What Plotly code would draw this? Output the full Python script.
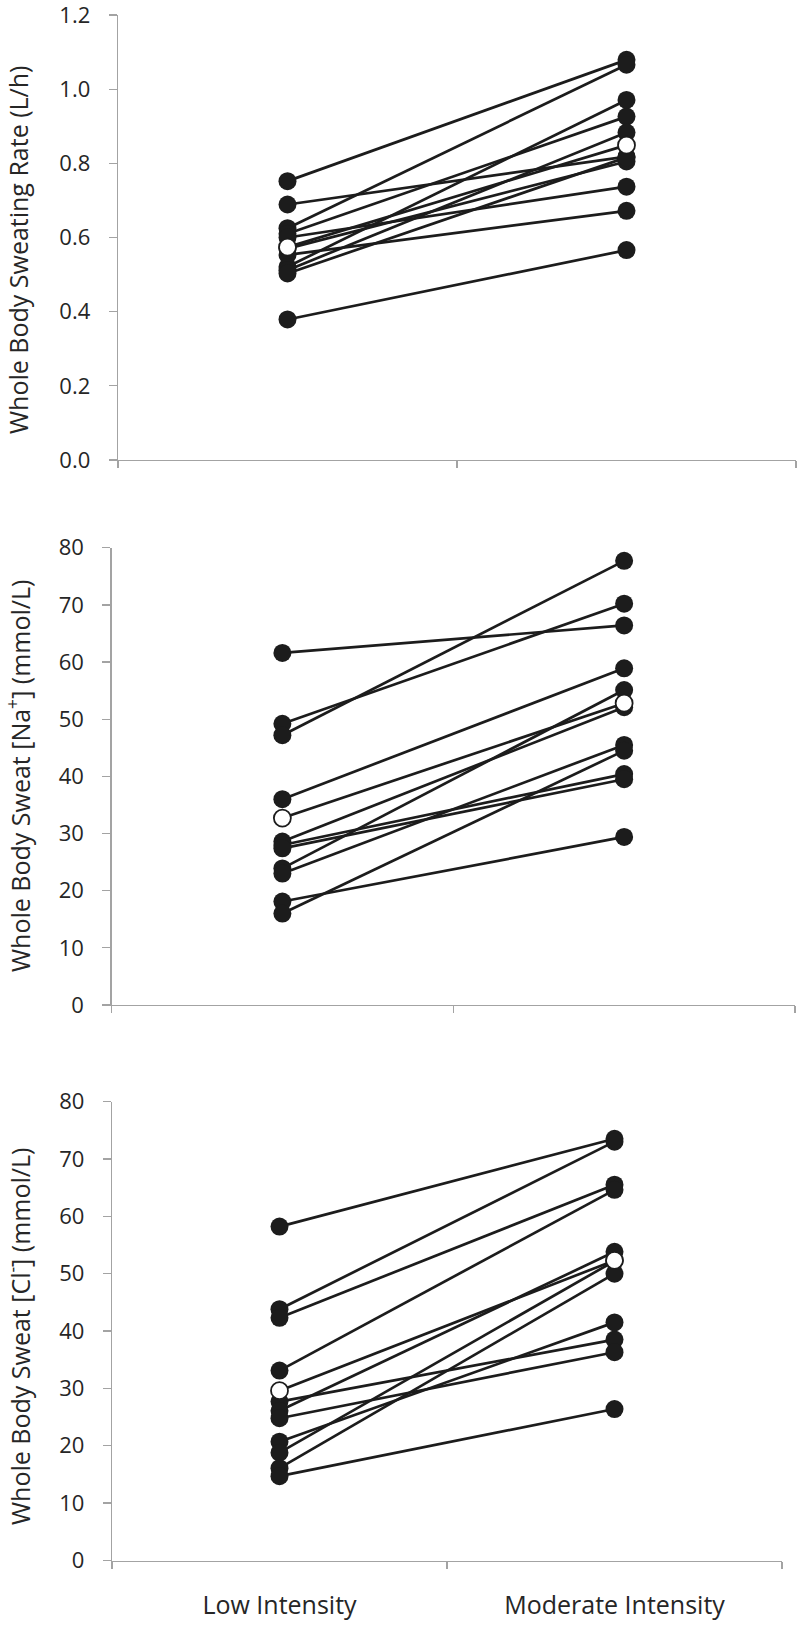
import plotly.graph_objects as go

categories = ["Low Intensity", "Moderate Intensity"]

# Panel 1: whole body sweating rate (L/h)
rate_low = [0.752, 0.689, 0.625, 0.610, 0.600, 0.570, 0.553, 0.521, 0.512, 0.503, 0.379]
rate_mod = [1.079, 0.818, 1.066, 0.926, 0.737, 0.805, 0.672, 0.971, 0.883, 0.816, 0.566]
rate_mean = [0.574, 0.849]

# Panel 2: whole body sweat [Na+] (mmol/L)
na_low = [61.6, 49.2, 47.2, 36.0, 28.6, 28.0, 27.4, 23.9, 23.0, 18.1, 16.0]
na_mod = [66.4, 70.2, 77.7, 58.9, 52.1, 40.4, 39.5, 55.1, 45.5, 29.4, 44.5]
na_mean = [32.7, 52.8]

# Panel 3: whole body sweat [Cl-] (mmol/L)
cl_low = [58.2, 43.8, 42.3, 33.1, 27.7, 26.1, 24.8, 20.7, 18.8, 16.1, 14.7]
cl_mod = [73.5, 73.0, 65.5, 64.6, 38.5, 53.8, 36.3, 41.5, 52.2, 50.0, 26.4]
cl_mean = [29.6, 52.3]

titles = [
    "Whole Body Sweating Rate (L/h)",
    "Whole Body Sweat [Na<sup>+</sup>] (mmol/L)",
    "Whole Body Sweat [Cl<sup>-</sup>] (mmol/L)",
]

W, H = 800, 1631
FONT = "Open Sans, Lato, sans-serif"
AXIS_GRAY = "#a3a3a3"
INK = "#1c1c1c"
TXT = "#262626"

panels = [
    dict(low=rate_low, mod=rate_mod, mean=rate_mean, x0=118, x1=796, top=15, bot=460,
         rng=[0, 1.2], dtick=0.2, fmt=".1f", tcy=250),
    dict(low=na_low, mod=na_mod, mean=na_mean, x0=111.5, x1=795, top=547.7, bot=1005,
         rng=[0, 80], dtick=10, fmt="d", tcy=776),
    dict(low=cl_low, mod=cl_mod, mean=cl_mean, x0=112, x1=782, top=1101.5, bot=1560.5,
         rng=[0, 80], dtick=10, fmt="d", tcy=1337),
]

fig = go.Figure()
layout = dict(
    width=W, height=H, margin=dict(l=0, r=0, t=0, b=0, pad=0, autoexpand=False),
    paper_bgcolor="white", plot_bgcolor="white", showlegend=False,
    hovermode=False, annotations=[],
)

for i, p in enumerate(panels):
    n = i + 1
    xa = "x" if n == 1 else f"x{n}"
    ya = "y" if n == 1 else f"y{n}"
    for lo, mo in zip(p["low"], p["mod"]):
        fig.add_trace(go.Scatter(
            x=categories, y=[lo, mo], mode="lines+markers", xaxis=xa, yaxis=ya,
            line=dict(color=INK, width=2.7),
            marker=dict(size=18, color=INK, line=dict(width=0)),
            hoverinfo="skip", cliponaxis=False,
        ))
    fig.add_trace(go.Scatter(
        x=categories, y=p["mean"], mode="lines+markers", xaxis=xa, yaxis=ya,
        line=dict(color=INK, width=2.7),
        marker=dict(size=17, color="white", line=dict(width=1.8, color=INK)),
        hoverinfo="skip", cliponaxis=False,
    ))

    xkey = "xaxis" if n == 1 else f"xaxis{n}"
    ykey = "yaxis" if n == 1 else f"yaxis{n}"
    layout[xkey] = dict(
        domain=[p["x0"] / W, p["x1"] / W], anchor=ya, type="category",
        categoryorder="array", categoryarray=categories, automargin=False,
        range=[-0.5, 1.5], tickson="boundaries", ticks="outside", ticklen=7,
        tickwidth=1.3, tickcolor=AXIS_GRAY, showline=True, linecolor=AXIS_GRAY,
        linewidth=1.3, showgrid=False, zeroline=False, ticklabeloverflow="allow",
        showticklabels=(n == 3), ticklabelstandoff=22,
        tickfont=dict(family=FONT, size=25, color=TXT),
    )
    layout[ykey] = dict(
        domain=[1 - p["bot"] / H, 1 - p["top"] / H], anchor=xa, automargin=False,
        range=p["rng"], dtick=p["dtick"], tick0=0, tickformat=p["fmt"],
        ticks="outside", ticklen=8, tickwidth=1.3, tickcolor=AXIS_GRAY,
        showline=True, linecolor=AXIS_GRAY, linewidth=1.3, ticklabeloverflow="allow",
        showgrid=False, zeroline=False, ticklabelstandoff=14,
        tickfont=dict(family=FONT, size=22, color=TXT),
    )
    layout["annotations"].append(dict(
        text=titles[i], textangle=-90, xref="paper", yref="paper",
        x=18 / W, y=1 - p["tcy"] / H, xanchor="center", yanchor="middle",
        showarrow=False, font=dict(family=FONT, size=25, color=TXT),
    ))

fig.update_layout(**layout)

# pin the figure to the top-left corner of the page (no body margin offset)
pin = (
    "document.body.style.margin='0px';"
    "var g=document.getElementById('{plot_id}');"
    "g.style.position='fixed';g.style.left='0px';g.style.top='0px';"
)
fig.write_html("out.html", post_script=pin,
               config={"displayModeBar": False, "staticPlot": True})
